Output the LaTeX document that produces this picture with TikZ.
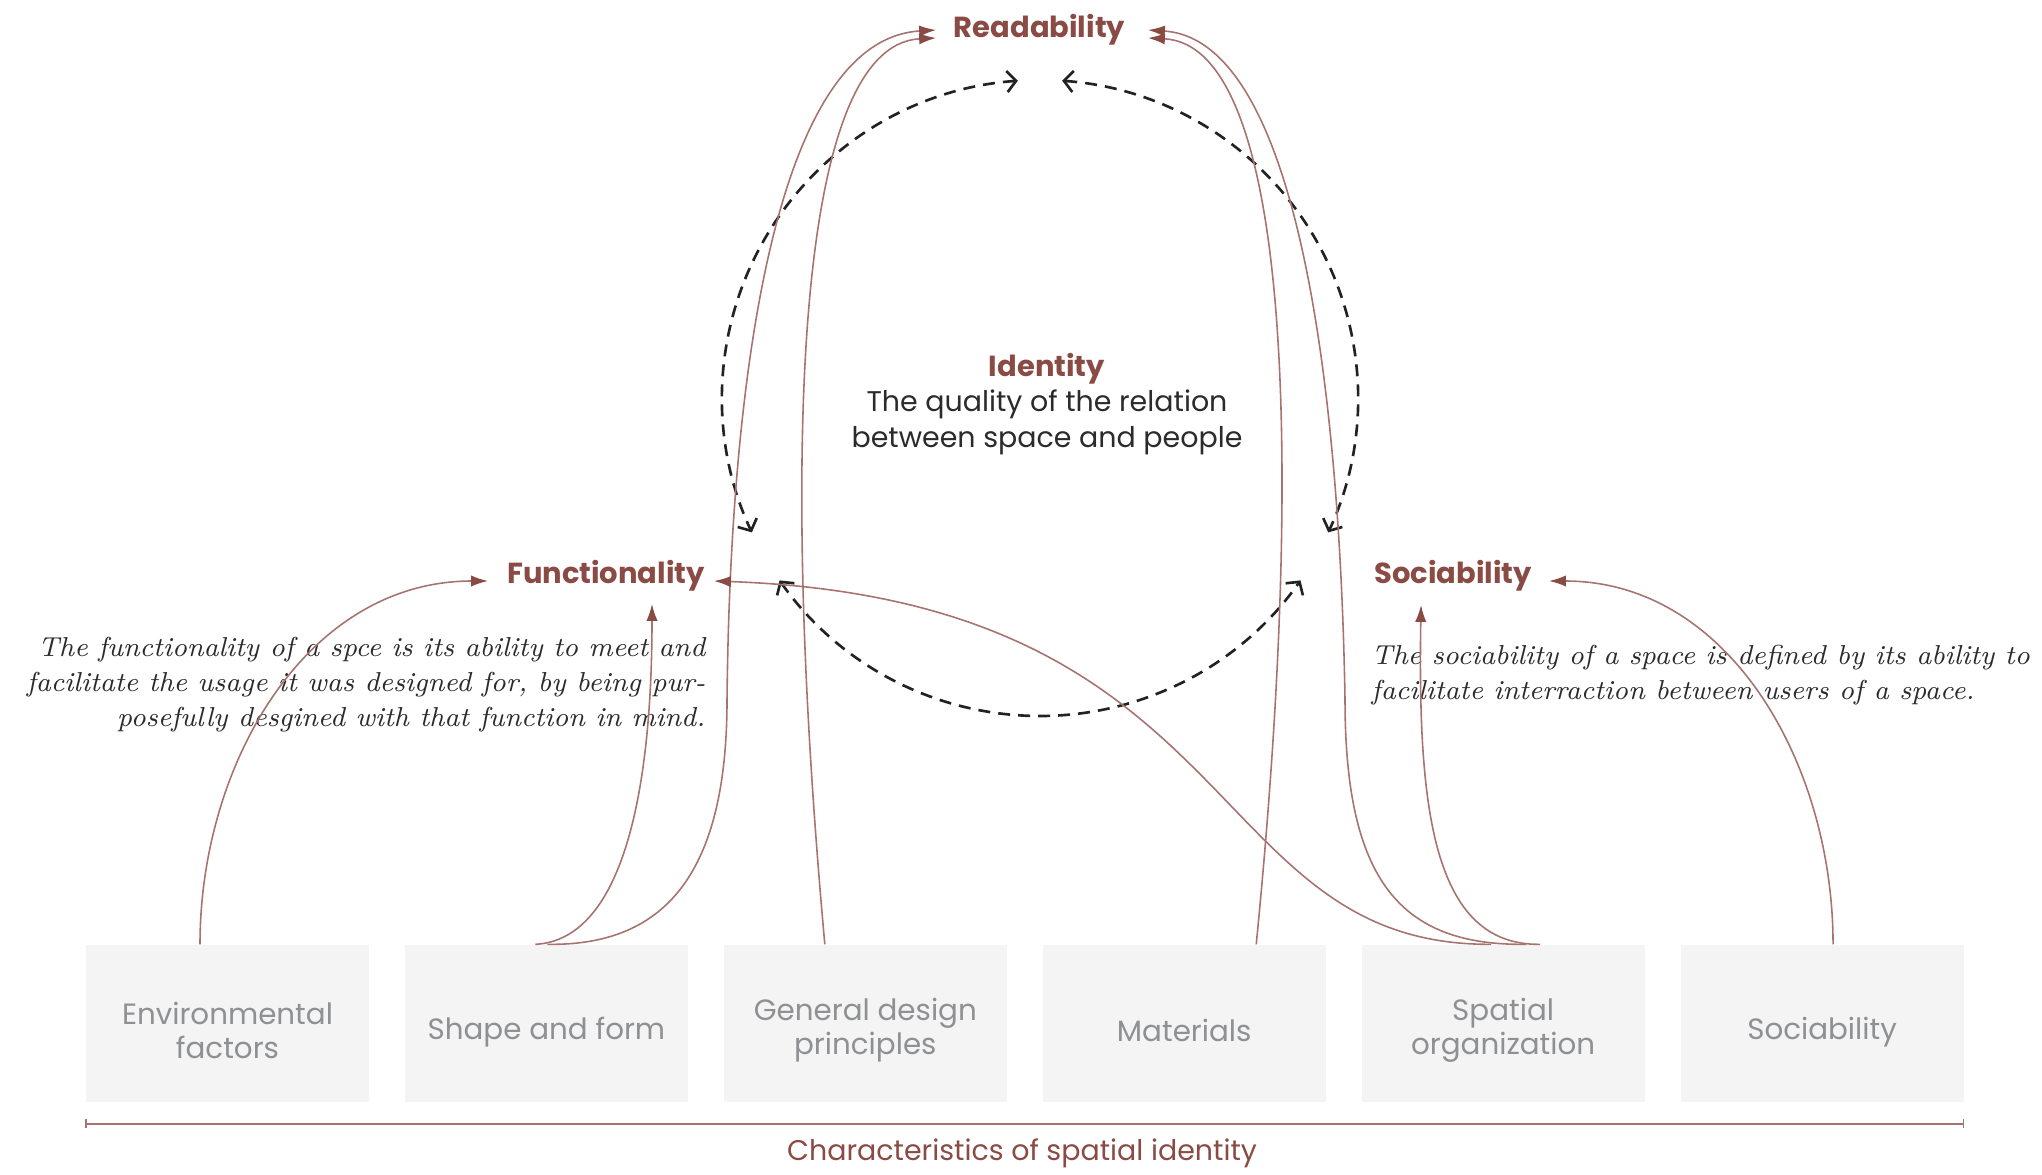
\documentclass[tikz,border=0pt]{standalone}
\usepackage{fontspec}
\newfontfamily\mont{Poppins}
\usetikzlibrary{arrows.meta,positioning}

\definecolor{idbrown}{HTML}{8A4B45}
\definecolor{linkbrown}{HTML}{A6736E}
\definecolor{boxgray}{HTML}{F3F4F3}
\definecolor{boxtext}{HTML}{8E9094}
\definecolor{darktext}{HTML}{2B2B2B}
\definecolor{dashblack}{HTML}{222222}

\tikzset{
  charbox/.style={fill=boxgray, minimum width=2.83cm, minimum height=1.57cm, inner sep=0pt},
  chartext/.style={inner sep=0pt, align=center, text=boxtext, font=\mont\fontsize{8.35}{9.7}\selectfont},
  quality/.style={inner sep=0pt, text=idbrown, font=\mont\bfseries\fontsize{8.25}{10}\selectfont},
  conn/.style={draw=linkbrown, line width=0.45pt, -{Latex[length=4.8pt,width=3.2pt,color=idbrown]}},
  cycleline/.style={draw=dashblack, line width=0.75pt, dash pattern=on 3.4pt off 2.3pt,
    {Straight Barb[length=2.6pt,width=6pt]}-{Straight Barb[length=2.6pt,width=6pt]}},
  note/.style={inner sep=0pt, text=darktext, font=\itshape\fontsize{7.8}{9.96}\selectfont},
}

\begin{document}
\begin{tikzpicture}
\useasboundingbox (0,0) rectangle (20.42,11.74);

% characteristics of spatial identity
\node[charbox] (env) at (2.275,1.505) {};
\node[charbox] (shape) [right=0.345cm of env] {};
\node[charbox] (gdp) [right=0.345cm of shape] {};
\node[charbox] (mat) [right=0.345cm of gdp] {};
\node[charbox] (spat) [right=0.345cm of mat] {};
\node[charbox] (sbox) [right=0.345cm of spat] {};

\node[chartext] at ([yshift=-0.07cm]env.center) {Environmental\\factors};
\node[chartext] at ([yshift=-0.09cm]shape.center) {Shape and form};
\node[chartext] at ([yshift=-0.07cm]gdp.center) {General design\\principles};
\node[chartext] at ([yshift=-0.07cm]mat.center) {Materials};
\node[chartext] at ([yshift=-0.07cm]spat.center) {Spatial\\organization};
\node[chartext] at ([yshift=-0.09cm]sbox.center) {Sociability};

\draw[linkbrown, line width=0.45pt, {Bar[width=2.5pt]}-{Bar[width=2.5pt]}]
  ([yshift=-0.21cm]env.south west) -- ([yshift=-0.21cm]sbox.south east);
\node[inner sep=0pt, text=idbrown, font=\mont\fontsize{8.1}{10}\selectfont] (charlbl) at (10.22,0.21)
  {Characteristics of spatial identity};

% qualities
\node[quality, anchor=base] (read) at (10.395,11.36) {Readability};
\node[quality, anchor=base] (func) at (6.06,5.91) {Functionality};
\node[quality, anchor=base] (soc) at (14.53,5.91) {Sociability};

\node[inner sep=0pt, align=center, text=darktext, font=\mont\fontsize{8.1}{10.1}\selectfont] (ident) at (10.47,7.70)
  {{\bfseries\color{idbrown}\fontsize{8.25}{10.1}\selectfont Identity}\\The quality of the relation\\between space and people};

\node[note, align=right, anchor=east] (funcnote) at (7.06,4.895)
  {The functionality of a spce is its ability to meet and\\
   facilitate the usage it was designed for, by being pur-\\
   posefully desgined with that function in mind.};
\node[note, align=left, anchor=west] (socnote) at (13.71,4.99)
  {The sociability of a space is defined by its ability to\\
   facilitate interraction between users of a space.};

% identity cycle
\coordinate (ctr) at (10.40,7.76);
\draw[cycleline] (ctr) ++(94:3.18) arc[start angle=94, end angle=205, radius=3.18];
\draw[cycleline] (ctr) ++(86:3.18) arc[start angle=86, end angle=-25, radius=3.18];
\draw[cycleline] (ctr) ++(215:3.18) arc[start angle=215, end angle=325, radius=3.18];

% arrow ends
\coordinate (func_l) at (4.88,5.93);
\coordinate (func_b) at (6.52,5.70);
\coordinate (func_r) at (7.14,5.93);
\coordinate (read_l1) at (9.36,11.44);
\coordinate (read_l2) at (9.36,11.36);
\coordinate (read_r1) at (11.48,11.44);
\coordinate (read_r2) at (11.48,11.36);
\coordinate (soc_b) at (14.21,5.69);
\coordinate (soc_r) at (15.49,5.93);

% connector starts
\coordinate (env_t) at ([xshift=-0.275cm]env.north);
\coordinate (shape_a) at ([xshift=-0.11cm]shape.north);
\coordinate (shape_b) at ([xshift=0.01cm]shape.north);
\coordinate (gdp_t) at ([xshift=-0.405cm]gdp.north);
\coordinate (mat_t) at ([xshift=0.72cm]mat.north);
\coordinate (spat_a) at ([xshift=-0.12cm]spat.north);
\coordinate (spat_b) at ([xshift=0.23cm]spat.north);
\coordinate (spat_c) at ([xshift=0.37cm]spat.north);
\coordinate (sbox_t) at ([xshift=0.11cm]sbox.north);

\draw[conn] (env_t) to[out=90,in=180] (func_l);
\draw[conn] (shape_a) .. controls (6.20,2.34) and (6.52,3.74) .. (func_b);
\draw[conn] (shape_b) .. controls (6.60,2.28) and (7.27,2.94) .. (7.27,4.74)
  .. controls (7.30,7.74) and (7.70,11.34) .. (read_l1);
\draw[conn] (gdp_t) .. controls (7.80,7.24) and (7.95,11.29) .. (read_l2);
\draw[conn] (mat_t) .. controls (13.05,7.24) and (12.90,11.29) .. (read_r2);
\draw[conn] (spat_b) .. controls (14.00,2.28) and (13.45,2.94) .. (13.45,4.74)
  .. controls (13.40,7.74) and (13.00,11.34) .. (read_r1);
\draw[conn] (spat_a) .. controls (12.00,2.28) and (12.50,5.74) .. (func_r);
\draw[conn] (spat_c) .. controls (14.30,2.28) and (14.18,3.74) .. (soc_b);
\draw[conn] (sbox_t) to[out=90,in=0] (soc_r);
\end{tikzpicture}
\end{document}
